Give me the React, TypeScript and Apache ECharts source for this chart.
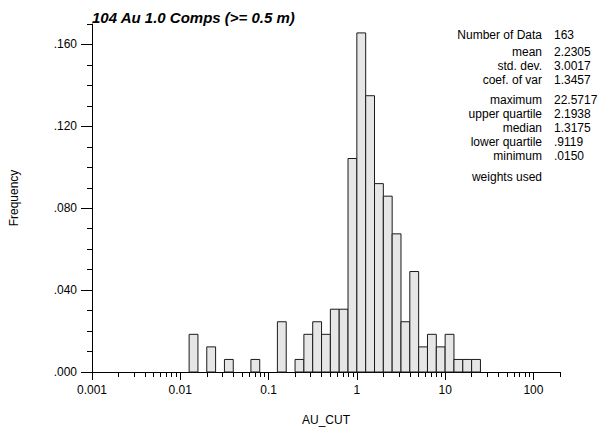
import React, { useEffect, useRef } from "react";
import * as echarts from "echarts";

// Histogram bins: lower edge in log10(AU_CUT), width 0.1 log units
const binLowerLog10 = [-1.9, -1.7, -1.5, -1.2, -0.9, -0.7, -0.6, -0.5, -0.4, -0.3, -0.2, -0.1, 0.0, 0.1, 0.2, 0.3, 0.4, 0.5, 0.6, 0.7, 0.8, 0.9, 1.0, 1.1, 1.2, 1.3];
const binCounts = [3, 2, 1, 1, 4, 1, 3, 4, 3, 5, 5, 17, 27, 22, 15, 14, 11, 4, 8, 2, 3, 2, 3, 1, 1, 1];
const binWidthLog10 = 0.1;
const nData = 163;

const xMajorLog10 = [-3, -2, -1, 0, 1, 2];
const xTickLabels = ["0.001", "0.01", "0.1", "1", "10", "100"];
const minorMultipliers = [2, 3, 4, 5, 6, 7, 8, 9];
const yMajor = [0, 0.04, 0.08, 0.12, 0.16];
const yTickLabels = [".000", ".040", ".080", ".120", ".160"];
const yMinor = [0.01, 0.02, 0.03, 0.05, 0.06, 0.07, 0.09, 0.1, 0.11, 0.13, 0.14, 0.15, 0.17];

const statLabels = ["Number of Data", "mean", "std. dev.", "coef. of var", "maximum", "upper quartile", "median", "lower quartile", "minimum", "weights used"];
const statValues = ["163", "2.2305", "3.0017", "1.3457", "22.5717", "2.1938", "1.3175", ".9119", ".0150", ""];
const statRowY = [35, 52, 66, 80, 100, 114, 128, 142, 156, 177];

const FONT = "'Liberation Sans', Arial, Helvetica, sans-serif";

export default function App() {
  const ref = useRef<HTMLDivElement>(null);
  useEffect(() => {
    if (!ref.current) return;
    const chart = echarts.init(ref.current, null, { renderer: "svg" });
    const xMin = -3;
    const xMax = Math.log10(200);
    const xMinor: number[] = [];
    xMajorLog10.forEach((d) => {
      minorMultipliers.forEach((m) => {
        const v = d + Math.log10(m);
        if (v <= xMax + 1e-9) xMinor.push(v);
      });
    });
    const barData = binLowerLog10.map((lo, i) => [lo, lo + binWidthLog10, binCounts[i] / nData]);
    const axisColor = "#000";
    const statGraphics: any[] = [];
    statLabels.forEach((s, i) => {
      statGraphics.push({
        type: "text",
        x: 542,
        y: statRowY[i],
        style: { text: s, fill: "#000", font: `12px ${FONT}`, align: "right", verticalAlign: "middle" },
      });
      if (statValues[i]) {
        statGraphics.push({
          type: "text",
          x: 554,
          y: statRowY[i],
          style: { text: statValues[i], fill: "#000", font: `12px ${FONT}`, align: "left", verticalAlign: "middle" },
        });
      }
    });
    chart.setOption({
      animation: false,
      backgroundColor: "#fff",
      grid: { left: 90, right: 41, top: 24, bottom: 59, containLabel: false },
      title: {
        text: "104 Au 1.0 Comps (>= 0.5 m)",
        left: 87,
        top: 5,
        textStyle: { fontFamily: FONT, fontSize: 15, fontWeight: "bold", fontStyle: "italic", color: "#000" },
      },
      xAxis: [
        {
          type: "value",
          min: xMin,
          max: xMax,
          position: "bottom",
          name: "AU_CUT",
          nameLocation: "middle",
          nameGap: 42,
          nameTextStyle: { fontFamily: FONT, fontSize: 12, color: "#000" },
          axisLine: { show: true, onZero: false, lineStyle: { color: axisColor, width: 1 } },
          axisTick: { show: true, length: 8, customValues: xMajorLog10, lineStyle: { color: axisColor } },
          axisLabel: {
            show: true,
            customValues: xMajorLog10,
            margin: 12,
            fontFamily: FONT,
            fontSize: 12,
            color: "#000",
            formatter: (v: number) => {
              const idx = xMajorLog10.findIndex((d) => Math.abs(d - v) < 1e-6);
              return idx >= 0 ? xTickLabels[idx] : "";
            },
          },
          splitLine: { show: false },
        },
        {
          type: "value",
          min: xMin,
          max: xMax,
          position: "bottom",
          axisLine: { show: false, onZero: false },
          axisTick: { show: true, length: 5, customValues: xMinor, lineStyle: { color: axisColor } },
          axisLabel: { show: false },
          splitLine: { show: false },
        },
      ],
      yAxis: [
        {
          type: "value",
          min: 0,
          max: 0.17,
          position: "left",
          name: "Frequency",
          nameLocation: "middle",
          nameRotate: 90,
          nameGap: 72,
          nameTextStyle: { fontFamily: FONT, fontSize: 12, color: "#000" },
          axisLine: { show: true, onZero: false, lineStyle: { color: axisColor, width: 1 } },
          axisTick: { show: true, length: 11, customValues: yMajor, lineStyle: { color: axisColor } },
          axisLabel: {
            show: true,
            customValues: yMajor,
            margin: 15,
            fontFamily: FONT,
            fontSize: 12,
            color: "#000",
            formatter: (v: number) => {
              const idx = yMajor.findIndex((d) => Math.abs(d - v) < 1e-9);
              return idx >= 0 ? yTickLabels[idx] : "";
            },
          },
          splitLine: { show: false },
        },
        {
          type: "value",
          min: 0,
          max: 0.17,
          position: "left",
          axisLine: { show: false, onZero: false },
          axisTick: { show: true, length: 5, customValues: yMinor, lineStyle: { color: axisColor } },
          axisLabel: { show: false },
          splitLine: { show: false },
        },
      ],
      series: [
        {
          type: "custom",
          xAxisIndex: 0,
          yAxisIndex: 0,
          data: barData,
          encode: { x: [0, 1], y: 2 },
          renderItem: (params: any, api: any) => {
            const lo = api.value(0);
            const hi = api.value(1);
            const f = api.value(2);
            const p0 = api.coord([lo, f]);
            const p1 = api.coord([hi, 0]);
            return {
              type: "rect",
              shape: { x: p0[0], y: p0[1], width: p1[0] - p0[0], height: p1[1] - p0[1] },
              style: { fill: "#e6e6e6", stroke: "#1a1a1a", lineWidth: 1 },
            };
          },
        },
      ],
      graphic: statGraphics,
    });
    return () => chart.dispose();
  }, []);
  return <div ref={ref} style={{ position: "fixed", left: 0, top: 0, width: 601, height: 431 }} />;
}
